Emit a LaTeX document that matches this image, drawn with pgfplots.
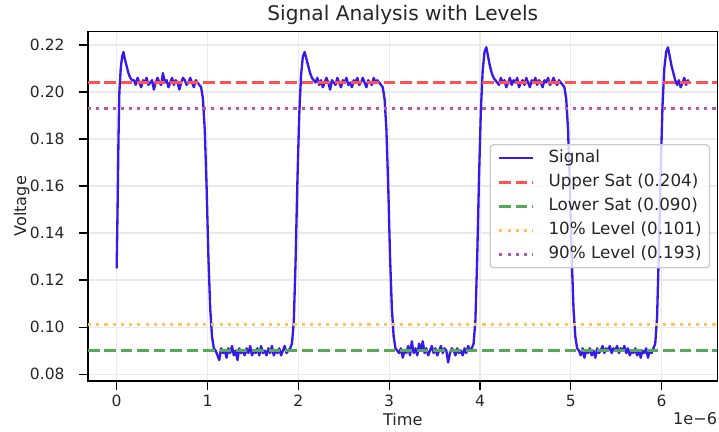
\documentclass[border=0pt]{standalone}
\usepackage{fontspec}
\setmainfont{DejaVu Sans}
\usepackage{pgfplots}
\pgfplotsset{compat=1.18}

\definecolor{sigblue}{RGB}{55,25,235}
\definecolor{satred}{RGB}{255,82,82}
\definecolor{satgreen}{RGB}{85,170,85}
\definecolor{lvlorange}{RGB}{255,198,85}
\definecolor{lvlpurple}{RGB}{180,88,180}
\definecolor{gridgray}{RGB}{234,234,234}
\definecolor{legframe}{RGB}{204,204,204}

\begin{document}
\begin{tikzpicture}
\begin{axis}[
  name=ax,
  scale only axis,
  width=406pt, height=225.3pt,
  xmin=-0.315, xmax=6.615,
  ymin=0.07715, ymax=0.22566,
  xtick={0,1,2,3,4,5,6},
  ytick={0.08,0.10,0.12,0.14,0.16,0.18,0.20,0.22},
  /pgf/number format/assume math mode=true,
  yticklabel style={/pgf/number format/fixed, /pgf/number format/fixed zerofill,
    /pgf/number format/precision=2,
    anchor=east, inner sep=0pt, xshift=-9pt},
  xticklabel style={anchor=base, inner sep=0pt, yshift=-10.3pt},
  tick label style={font=\fontsize{10}{12}\selectfont, text=black!85},
  tick pos=left,
  tick align=outside,
  major tick length=6pt,
  tick style={black, line width=0.8pt},
  axis line style={black, line width=0.8pt},
  grid=major,
  grid style={gridgray, line width=0.8pt},
  title={Signal Analysis with Levels},
  title style={font=\fontsize{13}{15.6}\selectfont, text=black!85,
    at={(axis description cs:0.5,1)}, anchor=base, inner sep=0pt, yshift=1.1pt},
  xlabel={Time},
  xlabel style={font=\fontsize{10.4}{12.5}\selectfont, text=black!85,
    at={(axis description cs:0.5,-0.1287)}, anchor=base, inner sep=0pt},
  ylabel={Voltage},
  ylabel style={font=\fontsize{10.4}{12.5}\selectfont, text=black!85,
    at={(axis description cs:-0.0985,0.5)}, anchor=base, inner sep=0pt},
  legend cell align=left,
  legend image code/.code={\draw[#1] (0pt,0pt) -- (21.9pt,0pt);},
  legend style={
    at={(axis description cs:1,0.5)}, anchor=east, xshift=-4.8pt,
    draw=legframe, line width=0.8pt, rounded corners=2pt,
    fill=white, fill opacity=0.8, text opacity=1,
    font=\fontsize{10.8}{13}\selectfont, text=black!85,
    inner xsep=5pt, inner ysep=3.3pt,
    row sep=4.8pt, column sep=9pt,
    nodes={inner sep=0pt, text height=8pt, text depth=2.7pt},
  },
]

% measured waveform (time in microseconds)
\addplot[sigblue, line width=1.5pt, line join=round] table {
x y
0.000 0.125
0.010 0.150
0.020 0.180
0.030 0.200
0.045 0.210
0.060 0.215
0.075 0.217
0.090 0.214
0.110 0.211
0.130 0.208
0.150 0.206
0.170 0.205
0.19 0.205
0.21 0.203
0.23 0.206
0.25 0.204
0.27 0.202
0.29 0.205
0.31 0.204
0.33 0.206
0.35 0.203
0.37 0.204
0.39 0.205
0.41 0.201
0.43 0.204
0.45 0.206
0.47 0.204
0.49 0.203
0.51 0.208
0.53 0.204
0.55 0.205
0.57 0.202
0.59 0.204
0.61 0.206
0.63 0.203
0.65 0.205
0.67 0.204
0.69 0.201
0.71 0.204
0.73 0.206
0.75 0.205
0.77 0.203
0.79 0.204
0.81 0.206
0.83 0.204
0.85 0.202
0.87 0.205
0.89 0.204
0.91 0.203
0.93 0.202
0.95 0.197
0.97 0.184
0.99 0.160
1.01 0.130
1.03 0.108
1.05 0.096
1.07 0.091
1.09 0.090
1.11 0.088
1.13 0.086
1.15 0.091
1.17 0.089
1.19 0.090
1.21 0.087
1.23 0.091
1.25 0.089
1.27 0.092
1.29 0.088
1.31 0.090
1.33 0.086
1.35 0.091
1.37 0.089
1.39 0.090
1.41 0.088
1.43 0.091
1.45 0.089
1.47 0.092
1.49 0.088
1.51 0.090
1.53 0.089
1.55 0.091
1.57 0.088
1.59 0.092
1.61 0.089
1.63 0.090
1.65 0.088
1.67 0.091
1.69 0.089
1.71 0.092
1.73 0.088
1.75 0.090
1.77 0.089
1.79 0.091
1.81 0.088
1.83 0.090
1.85 0.092
1.87 0.089
1.89 0.090
1.91 0.091
1.93 0.093
1.95 0.102
1.97 0.128
1.99 0.162
2.01 0.190
2.03 0.207
2.05 0.215
2.07 0.217
2.09 0.214
2.11 0.211
2.13 0.208
2.15 0.206
2.17 0.205
2.19 0.204
2.21 0.206
2.23 0.203
2.25 0.205
2.27 0.202
2.29 0.204
2.31 0.206
2.33 0.204
2.35 0.201
2.37 0.205
2.39 0.204
2.41 0.203
2.43 0.206
2.45 0.204
2.47 0.202
2.49 0.205
2.51 0.204
2.53 0.206
2.55 0.203
2.57 0.204
2.59 0.202
2.61 0.205
2.63 0.204
2.65 0.206
2.67 0.203
2.69 0.204
2.71 0.206
2.73 0.204
2.75 0.202
2.77 0.205
2.79 0.204
2.81 0.203
2.83 0.206
2.85 0.204
2.87 0.205
2.89 0.204
2.91 0.203
2.93 0.202
2.95 0.197
2.97 0.184
2.99 0.160
3.01 0.130
3.03 0.108
3.05 0.096
3.07 0.091
3.09 0.090
3.11 0.089
3.13 0.091
3.15 0.087
3.17 0.090
3.19 0.089
3.21 0.092
3.23 0.088
3.25 0.094
3.27 0.089
3.29 0.091
3.31 0.088
3.33 0.093
3.35 0.090
3.37 0.094
3.39 0.089
3.41 0.091
3.43 0.088
3.45 0.090
3.47 0.092
3.49 0.089
3.51 0.091
3.53 0.088
3.55 0.090
3.57 0.092
3.59 0.089
3.61 0.091
3.63 0.090
3.65 0.085
3.67 0.089
3.69 0.091
3.71 0.090
3.73 0.088
3.75 0.091
3.77 0.089
3.79 0.090
3.81 0.088
3.83 0.091
3.85 0.089
3.87 0.092
3.89 0.090
3.91 0.091
3.93 0.093
3.95 0.103
3.97 0.130
3.99 0.164
4.01 0.192
4.03 0.209
4.05 0.217
4.07 0.219
4.09 0.215
4.11 0.211
4.13 0.208
4.15 0.206
4.17 0.205
4.19 0.204
4.21 0.203
4.23 0.206
4.25 0.204
4.27 0.205
4.29 0.202
4.31 0.204
4.33 0.206
4.35 0.203
4.37 0.205
4.39 0.204
4.41 0.206
4.43 0.202
4.45 0.204
4.47 0.205
4.49 0.203
4.51 0.206
4.53 0.204
4.55 0.202
4.57 0.205
4.59 0.204
4.61 0.206
4.63 0.203
4.65 0.205
4.67 0.204
4.69 0.202
4.71 0.205
4.73 0.204
4.75 0.206
4.77 0.203
4.79 0.204
4.81 0.206
4.83 0.204
4.85 0.203
4.87 0.205
4.89 0.204
4.91 0.203
4.93 0.202
4.95 0.197
4.97 0.184
4.99 0.160
5.01 0.130
5.03 0.108
5.05 0.096
5.07 0.091
5.09 0.090
5.11 0.088
5.13 0.091
5.15 0.087
5.17 0.090
5.19 0.089
5.21 0.091
5.23 0.088
5.25 0.090
5.27 0.087
5.29 0.091
5.31 0.089
5.33 0.090
5.35 0.092
5.37 0.089
5.39 0.091
5.41 0.090
5.43 0.092
5.45 0.089
5.47 0.091
5.49 0.090
5.51 0.092
5.53 0.089
5.55 0.091
5.57 0.090
5.59 0.092
5.61 0.089
5.63 0.091
5.65 0.088
5.67 0.090
5.69 0.089
5.71 0.091
5.73 0.088
5.75 0.090
5.77 0.087
5.79 0.090
5.81 0.089
5.83 0.091
5.85 0.087
5.87 0.090
5.89 0.089
5.91 0.091
5.93 0.093
5.95 0.104
5.97 0.132
5.99 0.166
6.01 0.194
6.03 0.210
6.05 0.217
6.07 0.219
6.09 0.215
6.11 0.211
6.13 0.208
6.15 0.205
6.17 0.203
6.19 0.205
6.21 0.202
6.23 0.204
6.25 0.206
6.27 0.203
6.29 0.205
6.30 0.204
};
\addlegendentry{Signal}

% reference levels
\addplot[satred, line width=1.8pt, dash pattern=on 7.4pt off 3.2pt] coordinates {(-0.315,0.204) (6.615,0.204)};
\addlegendentry{Upper Sat (0.204)}
\addplot[satgreen, line width=1.8pt, dash pattern=on 7.4pt off 3.2pt] coordinates {(-0.315,0.090) (6.615,0.090)};
\addlegendentry{Lower Sat (0.090)}
\addplot[lvlorange, line width=1.8pt, dash pattern=on 2pt off 3.3pt] coordinates {(-0.315,0.101) (6.615,0.101)};
\addlegendentry{10\% Level (0.101)}
\addplot[lvlpurple, line width=1.8pt, dash pattern=on 2pt off 3.3pt] coordinates {(-0.315,0.193) (6.615,0.193)};
\addlegendentry{90\% Level (0.193)}
\end{axis}

\node[anchor=base east, inner sep=0pt, font=\fontsize{10.4}{12.5}\selectfont, text=black!85]
  at ([yshift=-28.4pt]ax.south east) {1e−6};

\pgfresetboundingbox
\path ([shift={(-56.8pt,-32.9pt)}]ax.south west) rectangle ([shift={(1pt,20.4pt)}]ax.north east);
\end{tikzpicture}
\end{document}
